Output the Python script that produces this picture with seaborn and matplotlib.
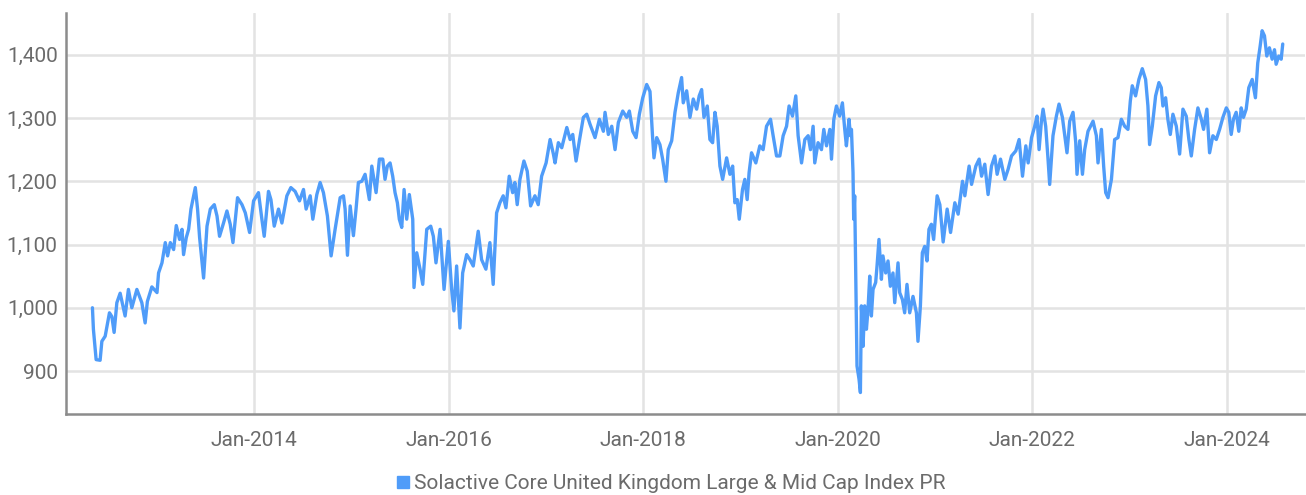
# Solactive Core United Kingdom Large & Mid Cap Index PR - price history chart
import numpy as np
import pandas as pd
import seaborn as sns
import matplotlib.pyplot as plt
import matplotlib.dates as mdates
from matplotlib.lines import Line2D

# Index level (time as decimal year, level in points)
years = [
    2012.338, 2012.348, 2012.376, 2012.417, 2012.435, 2012.469, 2012.513, 2012.538, 2012.561, 2012.589,
    2012.623, 2012.674, 2012.708, 2012.743, 2012.795, 2012.846, 2012.880, 2012.903, 2012.949, 2013.000,
    2013.016, 2013.051, 2013.085, 2013.109, 2013.137, 2013.171, 2013.198, 2013.232, 2013.257, 2013.273,
    2013.301, 2013.325, 2013.349, 2013.394, 2013.417, 2013.438, 2013.479, 2013.514, 2013.548, 2013.589,
    2013.617, 2013.643, 2013.684, 2013.719, 2013.753, 2013.781, 2013.828, 2013.874, 2013.908, 2013.952,
    2013.993, 2014.044, 2014.079, 2014.103, 2014.147, 2014.172, 2014.206, 2014.250, 2014.285, 2014.336,
    2014.377, 2014.421, 2014.466, 2014.507, 2014.534, 2014.576, 2014.603, 2014.644, 2014.678, 2014.712,
    2014.753, 2014.791, 2014.832, 2014.884, 2014.918, 2014.935, 2014.959, 2014.987, 2015.021, 2015.048,
    2015.072, 2015.107, 2015.141, 2015.185, 2015.210, 2015.254, 2015.288, 2015.323, 2015.346, 2015.370,
    2015.398, 2015.425, 2015.449, 2015.473, 2015.493, 2015.518, 2015.542, 2015.569, 2015.596, 2015.631,
    2015.644, 2015.672, 2015.706, 2015.734, 2015.775, 2015.816, 2015.843, 2015.870, 2015.912, 2015.953,
    2015.997, 2016.032, 2016.055, 2016.083, 2016.117, 2016.145, 2016.186, 2016.220, 2016.254, 2016.305,
    2016.340, 2016.384, 2016.425, 2016.459, 2016.494, 2016.528, 2016.562, 2016.590, 2016.624, 2016.659,
    2016.682, 2016.706, 2016.734, 2016.775, 2016.809, 2016.844, 2016.888, 2016.922, 2016.957, 2017.001,
    2017.042, 2017.076, 2017.093, 2017.127, 2017.162, 2017.214, 2017.248, 2017.275, 2017.309, 2017.343,
    2017.384, 2017.419, 2017.453, 2017.504, 2017.549, 2017.590, 2017.607, 2017.641, 2017.676, 2017.710,
    2017.744, 2017.789, 2017.830, 2017.857, 2017.892, 2017.926, 2017.960, 2017.995, 2018.036, 2018.070,
    2018.097, 2018.111, 2018.139, 2018.172, 2018.200, 2018.234, 2018.258, 2018.293, 2018.327, 2018.361,
    2018.395, 2018.412, 2018.447, 2018.481, 2018.515, 2018.550, 2018.576, 2018.601, 2018.625, 2018.659,
    2018.686, 2018.714, 2018.738, 2018.761, 2018.789, 2018.817, 2018.858, 2018.892, 2018.920, 2018.943,
    2018.967, 2018.988, 2019.022, 2019.046, 2019.070, 2019.090, 2019.115, 2019.159, 2019.200, 2019.234,
    2019.269, 2019.310, 2019.337, 2019.372, 2019.406, 2019.440, 2019.475, 2019.501, 2019.536, 2019.570,
    2019.594, 2019.629, 2019.663, 2019.697, 2019.721, 2019.748, 2019.765, 2019.799, 2019.834, 2019.858,
    2019.886, 2019.920, 2019.937, 2019.961, 2019.988, 2020.022, 2020.050, 2020.074, 2020.091, 2020.118,
    2020.132, 2020.143, 2020.159, 2020.166, 2020.176, 2020.187, 2020.200, 2020.221, 2020.235, 2020.245,
    2020.262, 2020.279, 2020.297, 2020.313, 2020.331, 2020.348, 2020.365, 2020.392, 2020.406, 2020.426,
    2020.451, 2020.467, 2020.495, 2020.519, 2020.543, 2020.570, 2020.588, 2020.622, 2020.639, 2020.667,
    2020.690, 2020.714, 2020.742, 2020.776, 2020.811, 2020.827, 2020.852, 2020.872, 2020.896, 2020.920,
    2020.940, 2020.965, 2020.988, 2021.022, 2021.050, 2021.084, 2021.125, 2021.160, 2021.204, 2021.238,
    2021.283, 2021.307, 2021.351, 2021.376, 2021.420, 2021.454, 2021.479, 2021.512, 2021.546, 2021.581,
    2021.615, 2021.639, 2021.674, 2021.718, 2021.752, 2021.787, 2021.831, 2021.865, 2021.900, 2021.934,
    2021.958, 2021.993, 2022.026, 2022.050, 2022.071, 2022.095, 2022.112, 2022.139, 2022.163, 2022.180,
    2022.214, 2022.249, 2022.276, 2022.311, 2022.335, 2022.358, 2022.386, 2022.420, 2022.448, 2022.461,
    2022.489, 2022.517, 2022.540, 2022.574, 2022.626, 2022.660, 2022.677, 2022.712, 2022.735, 2022.756,
    2022.780, 2022.815, 2022.848, 2022.882, 2022.917, 2022.951, 2022.985, 2023.010, 2023.030, 2023.064,
    2023.098, 2023.133, 2023.167, 2023.191, 2023.208, 2023.236, 2023.270, 2023.304, 2023.328, 2023.345,
    2023.373, 2023.396, 2023.421, 2023.448, 2023.483, 2023.517, 2023.551, 2023.585, 2023.612, 2023.637,
    2023.671, 2023.705, 2023.740, 2023.763, 2023.797, 2023.825, 2023.859, 2023.894, 2023.928, 2023.962,
    2023.997, 2024.023, 2024.048, 2024.071, 2024.099, 2024.126, 2024.151, 2024.174, 2024.202, 2024.229,
    2024.264, 2024.297, 2024.321, 2024.346, 2024.366, 2024.390, 2024.414, 2024.441, 2024.469, 2024.493,
    2024.510, 2024.537, 2024.562, 2024.578,
]
levels = [
    1000, 966, 918, 917, 947, 955, 992, 986, 961, 1008,
    1023, 987, 1029, 1000, 1029, 1008, 976, 1010, 1033, 1024,
    1055, 1071, 1103, 1082, 1103, 1092, 1130, 1108, 1124, 1084,
    1111, 1124, 1156, 1190, 1156, 1111, 1047, 1129, 1156, 1163,
    1145, 1113, 1134, 1153, 1132, 1103, 1174, 1163, 1150, 1119,
    1169, 1182, 1140, 1113, 1184, 1171, 1129, 1156, 1134, 1177,
    1190, 1184, 1169, 1187, 1156, 1177, 1140, 1179, 1198, 1182,
    1145, 1082, 1124, 1174, 1177, 1156, 1083, 1161, 1114, 1156,
    1198, 1200, 1211, 1171, 1224, 1182, 1235, 1235, 1203, 1224,
    1229, 1208, 1182, 1166, 1140, 1127, 1187, 1140, 1179, 1140,
    1032, 1087, 1061, 1037, 1124, 1129, 1113, 1071, 1124, 1029,
    1105, 1029, 995, 1066, 968, 1055, 1084, 1076, 1066, 1121,
    1076, 1061, 1103, 1037, 1150, 1166, 1177, 1158, 1208, 1182,
    1198, 1163, 1203, 1232, 1216, 1161, 1177, 1163, 1208, 1229,
    1266, 1243, 1229, 1261, 1253, 1285, 1266, 1274, 1232, 1264,
    1301, 1306, 1290, 1269, 1298, 1279, 1309, 1274, 1287, 1250,
    1293, 1311, 1301, 1311, 1279, 1269, 1306, 1332, 1353, 1342,
    1269, 1237, 1269, 1258, 1235, 1200, 1250, 1264, 1309, 1340,
    1364, 1324, 1343, 1301, 1330, 1314, 1335, 1345, 1301, 1319,
    1266, 1261, 1309, 1287, 1224, 1203, 1237, 1211, 1224, 1166,
    1171, 1140, 1187, 1203, 1171, 1214, 1245, 1229, 1256, 1250,
    1287, 1298, 1272, 1240, 1240, 1272, 1287, 1319, 1303, 1335,
    1272, 1229, 1266, 1272, 1250, 1287, 1229, 1261, 1250, 1282,
    1256, 1282, 1235, 1298, 1319, 1303, 1324, 1282, 1256, 1298,
    1272, 1282, 1214, 1140, 1177, 1055, 908, 887, 866, 1003,
    939, 1003, 966, 997, 1050, 987, 1029, 1040, 1066, 1108,
    1045, 1082, 1055, 1074, 1034, 1055, 1008, 1071, 1024, 1013,
    992, 1037, 992, 1018, 992, 947, 1003, 1087, 1097, 1074,
    1124, 1132, 1108, 1177, 1163, 1104, 1156, 1119, 1166, 1148,
    1200, 1177, 1224, 1195, 1224, 1235, 1208, 1227, 1179, 1224,
    1240, 1211, 1235, 1203, 1219, 1240, 1248, 1266, 1208, 1256,
    1229, 1269, 1287, 1303, 1250, 1295, 1314, 1287, 1235, 1195,
    1272, 1303, 1322, 1301, 1272, 1245, 1295, 1309, 1261, 1211,
    1264, 1211, 1250, 1279, 1295, 1272, 1229, 1282, 1224, 1182,
    1174, 1203, 1266, 1269, 1298, 1287, 1282, 1327, 1351, 1335,
    1361, 1378, 1361, 1319, 1258, 1287, 1335, 1356, 1348, 1319,
    1332, 1298, 1274, 1306, 1287, 1243, 1314, 1303, 1266, 1240,
    1282, 1316, 1298, 1282, 1314, 1245, 1272, 1266, 1282, 1301,
    1316, 1309, 1274, 1298, 1309, 1279, 1316, 1301, 1314, 1348,
    1361, 1332, 1387, 1414, 1438, 1430, 1398, 1411, 1393, 1408,
    1385, 1398, 1393, 1417,
]

series_name = 'Solactive Core United Kingdom Large & Mid Cap Index PR'

# Turn decimal years into timestamps
yr = np.array(years)
whole = np.floor(yr).astype(int)
dates = pd.to_datetime(whole.astype(str) + '-01-01') + pd.to_timedelta((yr - whole) * 365.25, unit='D')
df = pd.DataFrame({'Date': dates, 'Level': levels})

line_color = '#4f9cf9'
text_color = '#6b6b6b'

sns.set_style('white')
plt.rcParams['font.family'] = ['Liberation Sans Narrow', 'Roboto', 'DejaVu Sans']

fig = plt.figure(figsize=(13.06, 4.95), dpi=100)
ax = fig.add_axes([0.0505, 0.1636, 0.9490, 0.8101])

sns.lineplot(data=df, x='Date', y='Level', ax=ax, color=line_color,
             linewidth=2.4, label=series_name, legend=False)

# Axis ranges
ax.set_xlim(pd.Timestamp('2012-01-25'), pd.Timestamp('2024-10-23'))
ax.set_ylim(832, 1466)

# Ticks and labels
ax.set_yticks([900, 1000, 1100, 1200, 1300, 1400])
ax.yaxis.set_major_formatter(plt.FuncFormatter(lambda v, p: f'{v:,.0f}'))
ax.xaxis.set_major_locator(mdates.YearLocator(2, month=1, day=1))
ax.xaxis.set_major_formatter(mdates.DateFormatter('%b-%Y'))
ax.tick_params(axis='both', length=0, labelsize=15, colors=text_color)
ax.tick_params(axis='x', pad=12)
ax.tick_params(axis='y', pad=6)
ax.set_xlabel('')
ax.set_ylabel('')

# Grid and spines
ax.grid(True, color='#e3e3e3', linewidth=1.8)
ax.set_axisbelow(True)
for side in ['top', 'right']:
    ax.spines[side].set_visible(False)
for side in ['left', 'bottom']:
    ax.spines[side].set_color('#8c8c8c')
    ax.spines[side].set_linewidth(1.8)

# Legend below the chart with a square marker
handle = Line2D([], [], marker='s', linestyle='none', color=line_color, markersize=8)
fig.legend([handle], [series_name], loc='center', bbox_to_anchor=(0.513, 0.023),
           frameon=False, fontsize=15, labelcolor=text_color,
           handletextpad=0.1, handlelength=0.8)

plt.savefig('out.png', dpi=100)
